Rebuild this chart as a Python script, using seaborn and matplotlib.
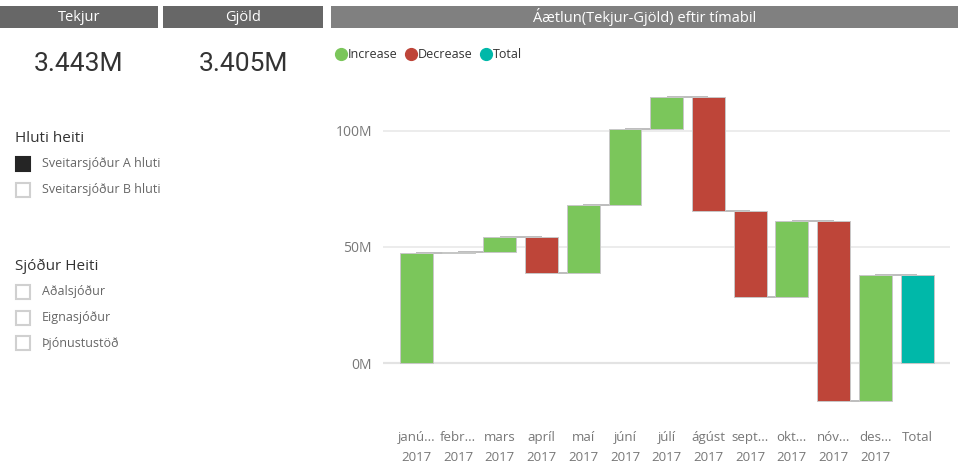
import matplotlib
matplotlib.use('Agg')
import matplotlib.pyplot as plt
from matplotlib.lines import Line2D
from matplotlib.patches import Rectangle
import numpy as np
import pandas as pd
import seaborn as sns

# data (values in millions)
months = ['janú...', 'febr...', 'mars', 'apríl', 'maí', 'júní', 'júlí',
          'ágúst', 'sept...', 'okt...', 'nóv...', 'des...']
year_label = '2017'
changes = [47.4, 0.4, 6.5, -15.4, 29.1, 32.5, 14.1, -49.0, -37.0, 32.7, -77.4, 54.2]
y_ticks = [0, 50, 100]

kpi_names = ['Tekjur', 'Gjöld']
kpi_values = ['3.443M', '3.405M']
hluti_items = ['Sveitarsjóður A hluti', 'Sveitarsjóður B hluti']
hluti_checked = [True, False]
sjodur_items = ['Aðalsjóður', 'Eignasjóður', 'Þjónustustöð']

chart_title = 'Áætlun(Tekjur-Gjöld) eftir tímabil'
legend_labels = ['Increase', 'Decrease', 'Total']
colors = {'Increase': '#7bc65b', 'Decrease': '#be4539', 'Total': '#00b8a9'}

sns.set_theme(style='white')
plt.rcParams['font.family'] = ['Open Sans', 'DejaVu Sans']

# waterfall table
cum = np.cumsum(changes)
prev = np.concatenate([[0], cum[:-1]])
df = pd.DataFrame({
    'label': [f'{m}\n{year_label}' for m in months] + ['Total'],
    'type': ['Increase' if c >= 0 else 'Decrease' for c in changes] + ['Total'],
    'height': list(np.abs(changes)) + [cum[-1]],
    'bottom': list(np.minimum(prev, cum)) + [0],
    'level': list(cum) + [cum[-1]],
})
order = list(df['label'])

W, H = 958, 472
fig = plt.figure(figsize=(W / 100, H / 100), dpi=100)
fig.patch.set_facecolor('white')


def fx(px):
    return px / W


def fy(py):
    return 1 - py / H


ax = fig.add_axes([fx(383), fy(421.5), fx(567), (421.5 - 72.4) / H])
bar_w = 0.79
for t in legend_labels:
    sub = df[df['type'] == t]
    sns.barplot(data=sub, x='label', y='height', order=order, bottom=sub['bottom'].values,
                color=colors[t], saturation=1, width=bar_w, edgecolor='#c8c8c8',
                linewidth=0.7, ax=ax, errorbar=None, zorder=2)

# connectors, drawn under the bars from centre to centre
lv = df['level'].values
ax.hlines(lv[:-1], np.arange(len(lv) - 1), np.arange(1, len(lv)),
          color='#b8b8b8', lw=1.3, zorder=1.5)

ax.set_ylim(-25, 125)
ax.set_xlim(-0.8, 12.79)
ax.set_yticks(y_ticks)
ax.set_yticklabels([f'{v}M' for v in y_ticks])
ax.grid(axis='y', color='#e9e9e9', lw=1.2)
ax.set_axisbelow(True)
ax.axhline(0, color='#c8c8c8', lw=1.5, zorder=0.5)
ax.set_xlabel('')
ax.set_ylabel('')
sns.despine(ax=ax, left=True, bottom=True)
ax.tick_params(axis='y', length=0, pad=8, labelsize=10, labelcolor='#777777')
ax.tick_params(axis='x', length=0, pad=6.5, labelsize=9.5, labelcolor='#777777')
for lab in ax.get_xticklabels():
    lab.set_linespacing(1.7)

# header bars
headers = [(0, 158, '#676767', kpi_names[0]), (163, 160, '#676767', kpi_names[1]),
           (331, 627, '#808080', chart_title)]
for x0, w, c, txt in headers:
    fig.add_artist(Rectangle((fx(x0), fy(28)), fx(w), 22 / H, transform=fig.transFigure,
                             facecolor=c, edgecolor='none'))
    fig.text(fx(x0 + w / 2), fy(17.5), txt, ha='center', va='center', color='white',
             fontsize=10.5)

# KPI cards
for cx, val in zip([79, 243], kpi_values):
    fig.text(fx(cx), fy(64), val, ha='center', va='center', color='#333333',
             fontsize=19, family=['Roboto', 'DejaVu Sans'])

# slicers
fig.text(fx(15), fy(138), 'Hluti heiti', ha='left', va='center', color='#333333', fontsize=11)
for i, (item, chk) in enumerate(zip(hluti_items, hluti_checked)):
    yc = 164 + i * 26
    fig.add_artist(Rectangle((fx(16), fy(yc + 7)), fx(14), 14 / H, transform=fig.transFigure,
                             facecolor='#252525' if chk else 'white',
                             edgecolor='#252525' if chk else '#d0d0d0', lw=1.5))
    fig.text(fx(42), fy(yc), item, ha='left', va='center', color='#666666', fontsize=9)

fig.text(fx(15), fy(266), 'Sjóður Heiti', ha='left', va='center', color='#333333', fontsize=11)
for i, item in enumerate(sjodur_items):
    yc = 292 + i * 25.5
    fig.add_artist(Rectangle((fx(16), fy(yc + 7)), fx(14), 14 / H, transform=fig.transFigure,
                             facecolor='white', edgecolor='#d0d0d0', lw=1.5))
    fig.text(fx(42), fy(yc), item, ha='left', va='center', color='#666666', fontsize=9)

# legend
handles = [Line2D([], [], marker='o', ls='', markersize=8.5, markerfacecolor=colors[t],
                  markeredgecolor=colors[t], label=t) for t in legend_labels]
fig.legend(handles=handles, loc='center left', bbox_to_anchor=(fx(335), fy(55)), ncol=3,
           frameon=False, handletextpad=0.05, columnspacing=0.55, handlelength=1.0,
           fontsize=9, labelcolor='#333333', borderaxespad=0, borderpad=0)

fig.savefig('out.png', dpi=100)
